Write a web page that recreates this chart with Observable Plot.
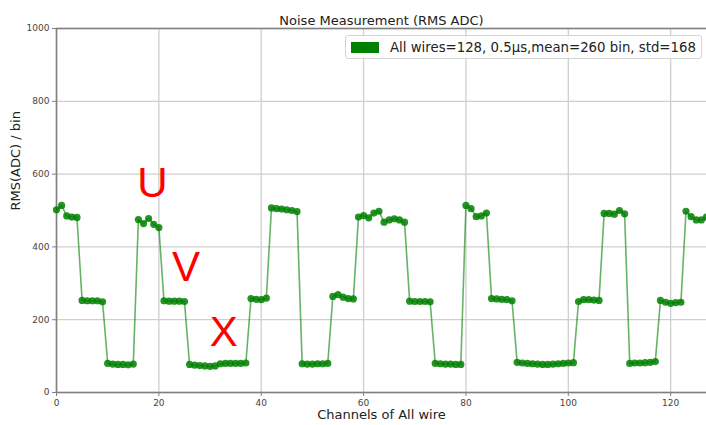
<!DOCTYPE html>
<html>
<head>
<meta charset="utf-8">
<script src="https://cdn.jsdelivr.net/npm/d3@7"></script>
<script src="https://cdn.jsdelivr.net/npm/@observablehq/plot@0.6"></script>
<style>
  html, body { margin: 0; padding: 0; background: #fff; overflow: hidden; }
  #wrap { position: relative; width: 706px; height: 425px; }
  #legend {
    position: absolute; left: 345px; top: 35px; width: 357px; height: 24px;
    border: 1px solid #d4d4d4; border-radius: 3px; background: rgba(255,255,255,0.85);
    font-family: "DejaVu Sans", sans-serif; font-size: 13.3px; color: #222;
    display: flex; align-items: center; box-sizing: border-box;
  }
  #legend .sw { width: 28px; height: 11px; background: #008000; margin: 0 11px 0 5px; flex: none; }
</style>
</head>
<body>
<div id="wrap"></div>
<script>
// Channel indices 0..127
const channels = [
  0,1,2,3,4,5,6,7,8,9,10,11,12,13,14,15,16,17,18,19,20,21,22,23,24,25,26,27,28,29,30,31,
  32,33,34,35,36,37,38,39,40,41,42,43,44,45,46,47,48,49,50,51,52,53,54,55,56,57,58,59,60,61,62,63,
  64,65,66,67,68,69,70,71,72,73,74,75,76,77,78,79,80,81,82,83,84,85,86,87,88,89,90,91,92,93,94,95,
  96,97,98,99,100,101,102,103,104,105,106,107,108,109,110,111,112,113,114,115,116,117,118,119,120,121,122,123,124,125,126,127
];
// RMS(ADC) per channel
const rms = [
  502, 514, 485, 482, 481,
  253, 252, 252, 252, 249,
  80, 78, 77, 77, 76, 78,
  475, 464, 478, 462, 453,
  252, 251, 251, 251, 250,
  77, 75, 74, 73, 72, 73, 79, 80, 80, 80, 80, 81,
  258, 256, 255, 259,
  507, 505, 504, 502, 500, 497,
  79, 78, 78, 79, 79, 80,
  264, 269, 262, 258, 257,
  482, 486, 480, 493, 498, 468, 474, 477, 474, 468,
  251, 250, 250, 250, 249,
  80, 79, 78, 78, 77, 77,
  514, 505, 483, 485, 493,
  258, 257, 256, 255, 252,
  83, 81, 80, 79, 78, 77, 77, 78, 79, 80, 81, 82,
  250, 255, 255, 254, 253,
  492, 492, 490, 500, 491,
  80, 81, 81, 82, 83, 85,
  253, 248, 245, 247, 248,
  498, 483, 474, 474, 482
];
const xTicks = [0, 20, 40, 60, 80, 100, 120];
const yTicks = [0, 200, 400, 600, 800, 1000];
const annLabels = ["U", "V", "X"];
const annX = [18.75, 25.3, 32.7];
const annY = [574, 343, 165];
const titleText = "Noise Measurement (RMS ADC)";
const xLabel = "Channels of All wire";
const yLabel = "RMS(ADC) / bin";
const legendText = "All wires=128, 0.5\u03bcs,mean=260 bin, std=168";

const data = channels.map((c, i) => ({ch: c, v: rms[i]}));
const ann = annLabels.map((t, i) => ({t, x: annX[i], y: annY[i]}));

const chart = Plot.plot({
  width: 706,
  height: 425,
  marginLeft: 56,
  marginRight: 0,
  marginTop: 28,
  marginBottom: 33,
  style: {fontFamily: "DejaVu Sans, sans-serif", fontSize: "9px", color: "#333", background: "#fff", overflow: "hidden"},
  x: {domain: [0, 127]},
  y: {domain: [0, 1000]},
  marks: [
    Plot.gridX(xTicks, {stroke: "#cfcfcf", strokeOpacity: 1, strokeWidth: 1.3}),
    Plot.gridY(yTicks, {stroke: "#cfcfcf", strokeOpacity: 1, strokeWidth: 1.3}),
    Plot.ruleY([0, 1000], {stroke: "#808080", strokeWidth: 1.6}),
    Plot.ruleX([0], {stroke: "#808080", strokeWidth: 1.6}),
    Plot.axisX(xTicks, {tickSize: 4, tickPadding: 3, label: null, stroke: "#808080", fill: "#444", tickFormat: d => String(d)}),
    Plot.axisY(yTicks, {tickSize: 4, tickPadding: 3, label: null, stroke: "#808080", fill: "#444", tickFormat: d => String(d)}),
    Plot.line(data, {x: "ch", y: "v", stroke: "#008000", strokeOpacity: 0.6, strokeWidth: 1.6}),
    Plot.dot(data, {x: "ch", y: "v", r: 3.6, fill: "#008000", fillOpacity: 0.85, stroke: "none"}),
    Plot.text(ann, {x: "x", y: "y", text: "t", fill: "#ff0000", fontSize: 42, fontFamily: "Liberation Sans, sans-serif", lineAnchor: "middle"}),
    Plot.text([titleText], {frameAnchor: "top", dy: -13, fontSize: 13, fill: "#222"}),
    Plot.text([xLabel], {frameAnchor: "bottom", dy: 26, fontSize: 13, fill: "#222"}),
    Plot.text([yLabel], {frameAnchor: "left", dx: -41, rotate: -90, fontSize: 13, fill: "#222"})
  ]
});

const wrap = document.getElementById("wrap");
wrap.appendChild(chart);
const lg = document.createElement("div");
lg.id = "legend";
lg.innerHTML = '<span class="sw"></span><span></span>';
lg.lastChild.textContent = legendText;
wrap.appendChild(lg);
</script>
</body>
</html>
